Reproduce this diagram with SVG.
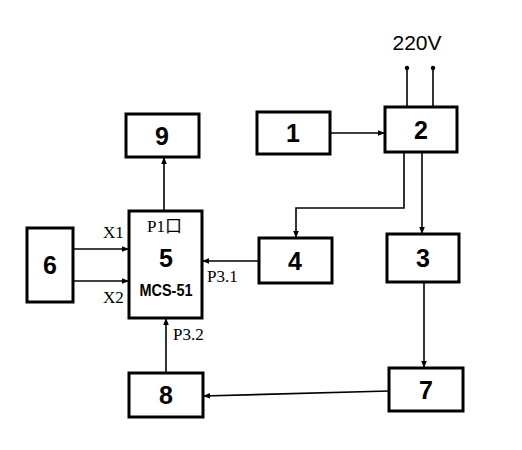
<svg xmlns="http://www.w3.org/2000/svg" width="522" height="450" viewBox="0 0 522 450">
<style>
.box{fill:#fff;stroke:#000;stroke-width:3}
.num{font-family:"Liberation Sans",Arial,sans-serif;font-weight:bold;font-size:25px;text-anchor:middle}
.lbl{font-family:"Liberation Serif","Noto Sans CJK SC",serif;font-size:17px}
.ln{fill:none;stroke:#000;stroke-width:1.6}
</style>
<defs>
<marker id="ah" viewBox="0 0 10 10" refX="10" refY="5" markerWidth="9" markerHeight="7" markerUnits="userSpaceOnUse" orient="auto">
<path d="M0,1 L10,5 L0,9 z" fill="#000"/>
</marker>
</defs>
<rect width="522" height="450" fill="#fff"/>
<g id="connectors">
<line class="ln" x1="330" y1="133" x2="385" y2="133" marker-end="url(#ah)"/>
<polyline class="ln" points="404,152 404,208 296,208 296,238" marker-end="url(#ah)"/>
<line class="ln" x1="422" y1="152" x2="422" y2="234" marker-end="url(#ah)"/>
<line class="ln" x1="424" y1="282" x2="424" y2="368" marker-end="url(#ah)"/>
<line class="ln" x1="389" y1="391" x2="203" y2="396" marker-end="url(#ah)"/>
<line class="ln" x1="166" y1="373" x2="166" y2="318" marker-end="url(#ah)"/>
<line class="ln" x1="259" y1="261" x2="202" y2="261" marker-end="url(#ah)"/>
<line class="ln" x1="164" y1="211" x2="164" y2="157" marker-end="url(#ah)"/>
<line class="ln" x1="73" y1="249" x2="129" y2="249" marker-end="url(#ah)"/>
<line class="ln" x1="73" y1="281" x2="129" y2="281" marker-end="url(#ah)"/>
<line class="ln" x1="407" y1="107" x2="407" y2="68"/>
<line class="ln" x1="433" y1="107" x2="433" y2="68"/>
<circle cx="407" cy="68" r="2.2"/>
<circle cx="433" cy="68" r="2.2"/>
<text x="417" y="50" font-family="'Liberation Sans',Arial,sans-serif" font-size="21" text-anchor="middle">220V</text>
<text class="lbl" x="103" y="238">X1</text>
<text class="lbl" x="103" y="303">X2</text>
<text class="lbl" x="207" y="282">P3.1</text>
<text class="lbl" x="173" y="340">P3.2</text>
</g>
<g id="n1"><rect class="box" x="257" y="112" width="73" height="42"/><text class="num" x="293" y="142">1</text></g>
<g id="n2"><rect class="box" x="385" y="107" width="72" height="45"/><text class="num" x="421" y="139">2</text></g>
<g id="n3"><rect class="box" x="387" y="234" width="72" height="48"/><text class="num" x="423" y="267">3</text></g>
<g id="n4"><rect class="box" x="259" y="238" width="73" height="45"/><text class="num" x="295" y="270">4</text></g>
<g id="n5"><rect class="box" x="129" y="211" width="73" height="107"/>
<text class="lbl" x="147" y="232">P1口</text>
<text class="num" x="166" y="267">5</text>
<text x="166" y="296" font-family="'Liberation Sans',Arial,sans-serif" font-weight="bold" font-size="16" text-anchor="middle" textLength="53" lengthAdjust="spacingAndGlyphs">MCS-51</text></g>
<g id="n6"><rect class="box" x="27" y="228" width="46" height="74"/><text class="num" x="50" y="274">6</text></g>
<g id="n7"><rect class="box" x="389" y="368" width="74" height="43"/><text class="num" x="426" y="399">7</text></g>
<g id="n8"><rect class="box" x="129" y="373" width="74" height="44"/><text class="num" x="166" y="404">8</text></g>
<g id="n9"><rect class="box" x="126" y="114" width="73" height="43"/><text class="num" x="162" y="145">9</text></g>
</svg>
